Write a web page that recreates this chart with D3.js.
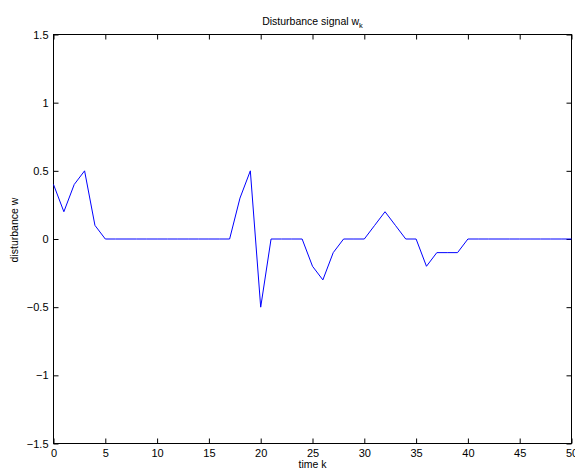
<!DOCTYPE html>
<html>
<head>
<meta charset="utf-8">
<script src="https://cdn.jsdelivr.net/npm/d3@7"></script>
<style>
body { margin: 0; background: #fff; }
text { font-family: Helvetica, Arial, "Liberation Sans", sans-serif; }
</style>
</head>
<body>
<script>
var width = 575
var height = 475

// time index and disturbance values
var timeK = d3.range(0, 51)
var disturbance = [0.4, 0.2, 0.4, 0.5, 0.1, 0, 0, 0, 0, 0,
	0, 0, 0, 0, 0, 0, 0, 0, 0.3, 0.5,
	-0.5, 0, 0, 0, 0, -0.2, -0.3, -0.1, 0, 0,
	0, 0.1, 0.2, 0.1, 0, 0, -0.2, -0.1, -0.1, -0.1,
	0, 0, 0, 0, 0, 0, 0, 0, 0, 0, 0]
var xTicks = [0, 5, 10, 15, 20, 25, 30, 35, 40, 45, 50]
var yTicks = [-1.5, -1, -0.5, 0, 0.5, 1, 1.5]

var plotLeft = 53.5, plotRight = 571.5, plotTop = 34.5, plotBottom = 443.5

var svg = d3.select('body')
	.append('svg')
	.attr('width', width)
	.attr('height', height)

svg.append('rect')
	.attr('width', '100%')
	.attr('height', '100%')
	.attr('fill', 'white')

var x = d3.scaleLinear().domain([0, 50]).range([plotLeft, plotRight])
var y = d3.scaleLinear().domain([-1.5, 1.5]).range([plotBottom, plotTop])

var fmt = function(d) { return String(d).replace('-', '\u2212') }

// bottom axis with inward ticks
svg.append('g')
	.attr('transform', 'translate(0,' + plotBottom + ')')
	.call(d3.axisBottom(x).tickValues(xTicks).tickSizeInner(-5).tickSizeOuter(0).tickPadding(6).tickFormat(fmt))
	.call(function(g) { g.select('.domain').remove() })

svg.append('g')
	.attr('transform', 'translate(0,' + plotTop + ')')
	.call(d3.axisTop(x).tickValues(xTicks).tickSizeInner(-5).tickSizeOuter(0).tickFormat(''))
	.call(function(g) { g.select('.domain').remove() })

svg.append('g')
	.attr('transform', 'translate(' + plotLeft + ',0)')
	.call(d3.axisLeft(y).tickValues(yTicks).tickSizeInner(-5).tickSizeOuter(0).tickPadding(5).tickFormat(fmt))
	.call(function(g) { g.select('.domain').remove() })

svg.append('g')
	.attr('transform', 'translate(' + plotRight + ',0)')
	.call(d3.axisRight(y).tickValues(yTicks).tickSizeInner(-5).tickSizeOuter(0).tickFormat(''))
	.call(function(g) { g.select('.domain').remove() })

svg.selectAll('.tick text')
	.attr('font-size', 11)
	.attr('fill', '#000')
	.style('font-family', 'Helvetica, Arial, "Liberation Sans", sans-serif')

svg.append('rect')
	.attr('x', plotLeft)
	.attr('y', plotTop)
	.attr('width', plotRight - plotLeft)
	.attr('height', plotBottom - plotTop)
	.attr('fill', 'none')
	.attr('stroke', '#000')
	.attr('stroke-width', 1)

var line = d3.line()
	.x(function(d, i) { return x(timeK[i]) })
	.y(function(d) { return y(d) })

svg.append('path')
	.datum(disturbance)
	.attr('d', line)
	.attr('fill', 'none')
	.attr('stroke', '#0000ff')
	.attr('stroke-width', 1)

// title with subscript
var title = svg.append('text')
	.attr('x', (plotLeft + plotRight) / 2)
	.attr('y', 25)
	.attr('text-anchor', 'middle')
	.attr('font-size', 10.5)
title.append('tspan').text('Disturbance signal w')
title.append('tspan').attr('font-size', 7.5).attr('dy', 3).text('k')

svg.append('text')
	.attr('x', (plotLeft + plotRight) / 2)
	.attr('y', 468)
	.attr('text-anchor', 'middle')
	.attr('font-size', 10.5)
	.text('time k')

svg.append('text')
	.attr('transform', 'translate(18,230) rotate(-90)')
	.attr('text-anchor', 'middle')
	.attr('font-size', 10.5)
	.text('disturbance w')
</script>
</body>
</html>
